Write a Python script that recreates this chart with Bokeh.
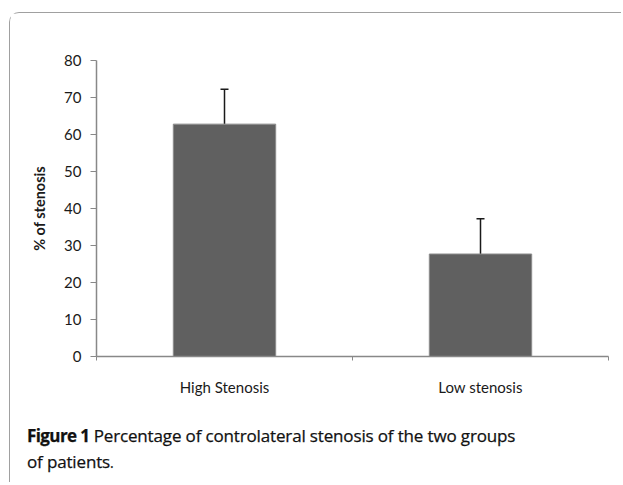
from bokeh.plotting import figure
from bokeh.models import (Range1d, FixedTicker, Whisker, ColumnDataSource,
                          TeeHead, Div)
from bokeh.layouts import column
from bokeh.embed import file_html
from bokeh.resources import INLINE

categories = ["High Stenosis", "Low stenosis"]
values = [62.8, 27.7]
errors = [9.4, 9.5]
y_ticks = [0, 10, 20, 30, 40, 50, 60, 70, 80]
caption_bold = "Figure 1"
caption_line1 = "Percentage of controlateral stenosis of the two groups"
caption_line2 = "of patients"

xs = list(range(len(categories)))
src = ColumnDataSource(dict(x=xs, top=values,
                            upper=[v + e for v, e in zip(values, errors)]))

p = figure(width=610, height=386, output_backend="svg", toolbar_location=None,
           x_range=Range1d(-0.5, len(categories) - 0.5), y_range=Range1d(0, 80),
           min_border_left=86, min_border_right=12, min_border_top=47,
           min_border_bottom=43)
p.grid.visible = False
p.outline_line_color = None

p.vbar(x="x", top="top", width=0.4, bottom=0, source=src,
       fill_color="#606060", line_color="#8c8c8c", line_width=1)

w = Whisker(base="x", lower="top", upper="upper", source=src, dimension="height",
            line_color="#1a1a1a", line_width=1.5, lower_head=None,
            upper_head=TeeHead(size=8, line_color="#1a1a1a", line_width=1.5))
p.add_layout(w)

ax = p.xaxis[0]
ax.ticker = FixedTicker(ticks=xs, minor_ticks=[-0.5, 0.5, 1.5])
ax.major_label_overrides = {i: c for i, c in enumerate(categories)}
ax.major_tick_out = 0
ax.major_tick_in = 0
ax.minor_tick_out = 4
ax.minor_tick_in = 0
ax.minor_tick_line_color = "#888888"
ax.axis_line_color = "#888888"
ax.axis_line_width = 1.5
ax.major_label_text_font = "Lato"
ax.major_label_text_font_size = "15px"
ax.major_label_text_color = "#1a1a1a"
ax.major_label_standoff = 17

ay = p.yaxis[0]
ay.ticker = FixedTicker(ticks=y_ticks)
ay.axis_line_color = "#888888"
ay.axis_line_width = 1.5
ay.major_tick_line_color = "#888888"
ay.major_tick_out = 6
ay.major_tick_in = 0
ay.minor_tick_line_color = None
ay.major_label_text_font = "Lato"
ay.major_label_text_font_size = "15px"
ay.major_label_text_color = "#1a1a1a"
ay.major_label_standoff = 9
ay.axis_label = "% of stenosis"
ay.axis_label_text_font = "Lato"
ay.axis_label_text_font_style = "bold"
ay.axis_label_text_font_size = "14.5px"
ay.axis_label_text_color = "#1a1a1a"
ay.axis_label_standoff = 13

cap = Div(text=(f"<b style='letter-spacing:-0.6px'>{caption_bold}</b> "
                f"{caption_line1}<br>{caption_line2}"
                "<span style='font-size:14px'>.</span>"),
          width=600, height=70,
          styles={"font-family": "'Open Sans'", "font-size": "17px",
                  "line-height": "26px", "color": "#111111",
                  "letter-spacing": "-0.15px",
                  "-webkit-text-stroke": "0.25px #111111",
                  "white-space": "nowrap", "padding-top": "19px",
                  "padding-left": "12px"})

layout = column(p, cap, width=612, height=470,
                styles={"border-top": "1.5px solid #a0a0a0",
                        "border-left": "1.5px solid #a0a0a0",
                        "border-top-left-radius": "10px",
                        "background": "white"})
layout.margin = (12, 0, 0, 9)

open("out.html", "w").write(file_html(layout, INLINE))
